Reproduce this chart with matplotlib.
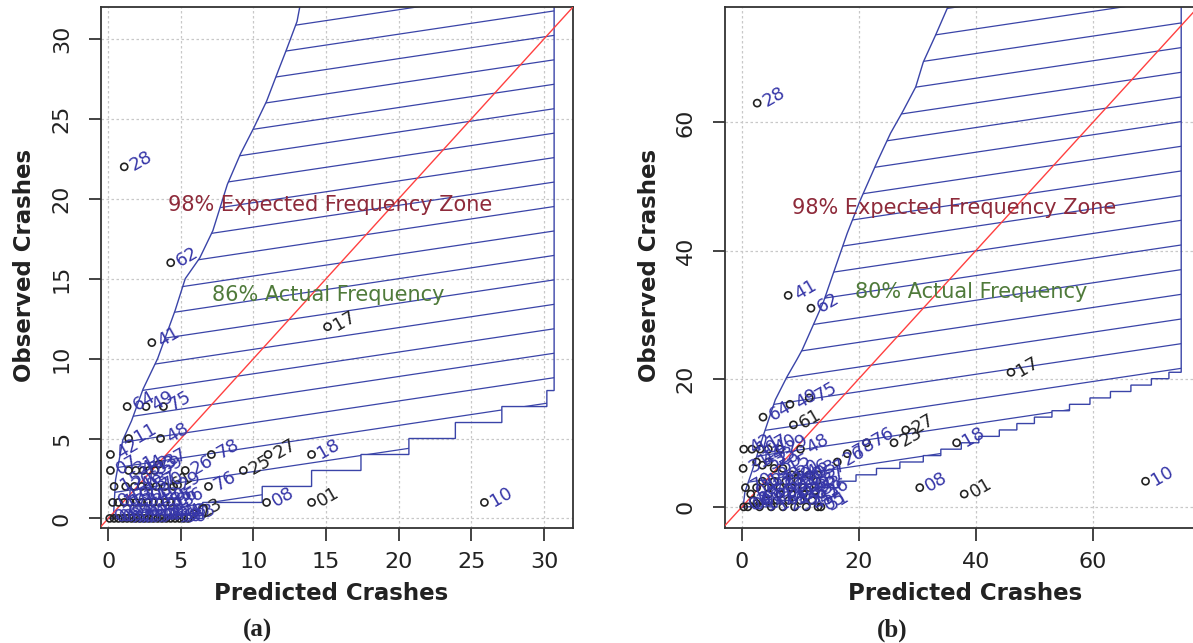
import numpy as np
import matplotlib.pyplot as plt
from matplotlib.patches import Polygon

# ---------------- panel (a) data ----------------
pred_a = [1.1, 4.3, 3.0, 15.1, 1.3, 2.6, 3.8, 0.15, 1.4, 3.6, 7.1, 5.3, 6.9, 9.3, 11.0, 14.0, 10.9, 14.0, 25.9,
          0.15, 1.4, 1.9, 2.4, 2.8, 3.2, 3.5, 3.9,
          0.4, 1.2, 1.8, 2.3, 2.8, 3.3, 4.5,
          0.3, 0.7, 1.1, 1.5, 1.9, 2.3, 2.7, 3.1, 3.5, 3.9, 4.3, 4.7,
          0.1, 0.4, 0.7, 1.0, 1.3, 1.6, 1.9, 2.2, 2.5, 2.8, 3.1, 3.4, 3.7, 4.0, 4.3, 4.6, 4.9, 5.2, 5.5, 5.9]
obs_a = [22, 16, 11, 12, 7, 7, 7, 4, 5, 5, 4, 3, 2, 3, 4, 4, 1, 1, 1,
         3, 3, 3, 3, 3, 3, 3.4, 2,
         2, 2, 2, 2, 2, 2, 2,
         1, 1, 1, 1, 1, 1, 1, 1, 1, 1, 1, 1,
         0, 0, 0, 0, 0, 0, 0, 0, 0, 0, 0, 0, 0, 0, 0, 0, 0, 0, 0, 0.3]
site_a = ['28', '62', '41', '17', '64', '49', '75', '42', '11', '48', '78', '26', '76', '25', '27', '18', '08', '01', '10',
          '07', '31', '44', '52', '33', '59', '37', '61',
          '15', '20', '46', '03', '57', '70', '29',
          '04', '12', '19', '22', '30', '34', '39', '43', '50', '55', '66', '36',
          '02', '06', '09', '13', '14', '16', '21', '24', '32', '35', '38', '40', '45', '47', '51', '54', '58', '60', '63', '23']

upper_a_x = [0.35, 0.5, 0.7, 1.0, 1.6, 2.4, 3.4, 4.6, 5.3, 6.3, 7.2, 8.2, 9.1, 10.0, 10.9, 11.7, 12.3, 13.0, 13.6]
upper_a_y = [0, 2.4, 3.4, 4.9, 6.1, 8.1, 10, 13, 15, 16.3, 18, 20.9, 22.8, 24.4, 26.1, 28, 29.4, 31.1, 34]
lower_a_x = [0, 6.5, 10.6, 14.0, 17.4, 20.7, 23.9, 27.1, 30.2]
lower_a_y = [0, 1, 2, 3, 4, 5, 6, 7, 8]
right_a = 30.7

# ---------------- panel (b) data ----------------
pred_b = [2.6, 7.9, 11.8, 46, 3.6, 8.2, 11.5, 8.8, 10, 16.3, 18, 21.3, 26, 28, 36.7, 30.4, 38, 69, 13, 12.8,
          0.3, 1.7, 3.1, 4.5, 6.5,
          0.2, 2.5, 3.5, 4.5, 5.5, 7, 8.5, 10, 11.5, 13,
          0.6, 1.5, 2.5, 3.5, 4.5, 5.5, 6.5, 7.5, 8.5, 9.5, 10.5, 11.5, 13.5,
          0.3, 1, 2, 3, 4, 5, 6, 7, 8, 9, 10, 11, 12, 13.5, 4.5, 6.5, 8.5, 10.5, 2.5, 12.5]
obs_b = [63, 33, 31, 21, 14, 16, 17, 12.8, 9, 7, 8.3, 10, 10, 12, 10, 3, 2, 4, 0, 4,
         9, 9, 9, 9, 9,
         6, 7, 6.5, 7, 6, 6, 5, 5, 5, 5,
         3, 2, 3, 4, 3, 4, 3, 4, 3, 4, 3, 3, 2,
         0, 0, 1, 0, 1, 0, 1, 0, 1, 0, 1, 0, 1, 0, 2, 2, 2, 2, 0.5, 2.5]
site_b = ['28', '41', '62', '17', '64', '49', '75', '61', '48', '26', '78', '76', '23', '27', '18', '08', '01', '10', '05', '37',
          '42', '11', '07', '40', '29',
          '31', '44', '52', '33', '59', '15', '20', '46', '03', '57',
          '70', '04', '12', '19', '22', '30', '34', '39', '43', '50', '55', '66', '36',
          '02', '06', '09', '13', '14', '16', '21', '24', '32', '35', '38', '45', '47', '51', '54', '58', '60', '63', '80', '53']

upper_b_x = [0.2, 0.5, 1.7, 3.6, 5.7, 7.7, 9.4, 10.3, 12.2, 13.9, 15.6, 18.0, 20.2, 23.2, 25.4, 27.5, 29.7, 31.0, 33.1, 35.2, 36.0]
upper_b_y = [0, 2.3, 5.5, 11, 16.7, 20.3, 23, 24.5, 28.4, 31.9, 36.4, 42.7, 47.8, 54, 58.3, 61.7, 65.5, 69.4, 73.6, 78, 82]
lower_b_x = [0, 6, 9.5, 13, 16.5, 19.5, 23, 27, 31, 34, 37.5, 40.5, 44, 47, 50, 53, 56, 59.5, 63, 66.5, 70, 73]
lower_b_y = list(range(22))
right_b = 75.1

dark_labels = {'17', '27', '25', '01', '61', '23'}

BLUE = '#3a44a8'
fig = plt.figure(figsize=(11.93, 6.43), dpi=100)
W, H = 1193, 643


def stairs(xs, ys, x_end):
    verts = []
    for i in range(len(xs)):
        x_next = xs[i + 1] if i + 1 < len(xs) else x_end
        verts.append((xs[i], ys[i]))
        verts.append((x_next, ys[i]))
    return verts


def draw_panel(ax, pred, obs, sites, up_x, up_y, lo_x, lo_y, right, top,
               c0, spacing, ticks, lim_x, lim_y, txt_exp, txt_act, act_label):
    # zone polygon
    verts = stairs(lo_x, lo_y, right) + [(right, top), (up_x[-1], top)] + list(zip(up_x[::-1], up_y[::-1]))
    poly = Polygon(verts, closed=True, fill=False, edgecolor=BLUE, lw=1.0, zorder=2)
    ax.add_patch(poly)
    slope = 0.136
    for k in range(-8, 30):
        c = c0 + spacing * k
        ln, = ax.plot([-10, 120], [c - 10 * slope, c + 120 * slope], color=BLUE, lw=0.9, zorder=2)
        ln.set_clip_path(poly)

    ax.plot([-10, 120], [-10, 120], color='#ff4040', lw=1.0, zorder=3)

    ax.scatter(pred, obs, s=26, facecolors='none', edgecolors='#222222', linewidths=1.2, zorder=4)
    for x, y, s in zip(pred, obs, sites):
        ax.annotate(s, (x, y), xytext=(5, 0), textcoords='offset points', rotation=30,
                    rotation_mode='anchor', ha='left', va='center', fontsize=13,
                    color='#222222' if s in dark_labels else '#3636a8', zorder=5)

    ax.text(txt_exp[0], txt_exp[1], '98% Expected Frequency Zone', color='#8e2a3a', fontsize=15,
            va='center', ha='left', zorder=6)
    ax.text(txt_act[0], txt_act[1], act_label, color='#4f7a3a', fontsize=15,
            va='center', ha='left', zorder=6)

    ax.set_xlim(*lim_x)
    ax.set_ylim(*lim_y)
    ax.set_xticks(ticks[0])
    ax.set_yticks(ticks[1])
    ax.grid(True, color='#c8c8c8', linestyle=(0, (2, 2)), lw=0.9)
    ax.set_axisbelow(True)
    ax.tick_params(direction='out', length=9, width=1.2, labelsize=16, pad=8, colors='#222222')
    ax.tick_params(axis='y', pad=12)
    for lbl in ax.get_yticklabels():
        lbl.set_rotation(90)
        lbl.set_va('center')
    for sp in ax.spines.values():
        sp.set_color('#333333')
        sp.set_linewidth(1.3)


ax_a = fig.add_axes([101 / W, 1 - 528 / H, (573 - 101) / W, (528 - 7) / H])
draw_panel(ax_a, pred_a, obs_a, site_a, upper_a_x, upper_a_y, lower_a_x, lower_a_y, right_a, 40,
           4.63, 1.53, (range(0, 31, 5), range(0, 31, 5)), (-0.5, 32), (-0.6, 32),
           (4.1, 19.6), (7.15, 14.0), '86% Actual Frequency')

ax_b = fig.add_axes([725 / W, 1 - 528 / H, (1197 - 725) / W, (528 - 7) / H])
draw_panel(ax_b, pred_b, obs_b, site_b, upper_b_x, upper_b_y, lower_b_x, lower_b_y, right_b, 90,
           11.4, 3.85, (range(0, 61, 20), range(0, 61, 20)), (-2.9, 77.8), (-3.3, 78),
           (8.6, 46.7), (19.4, 33.6), '80% Actual Frequency')

for cx, lab in [(331, '(a)'), (965, '(b)')]:
    fig.text(cx / W, 1 - 593 / H, 'Predicted Crashes', fontsize=16.5, fontweight='bold',
             ha='center', va='center', color='#222222')
    fig.text((cx - 73) / W, 1 - 630 / H, lab, fontsize=18, fontweight='bold',
             family='Liberation Serif', ha='center', va='center', color='#222222')
for cx in [25, 650]:
    fig.text(cx / W, 1 - 265 / H, 'Observed Crashes', fontsize=16.5, fontweight='bold',
             rotation=90, ha='center', va='center', color='#222222')

fig.savefig('out.png', dpi=100)
